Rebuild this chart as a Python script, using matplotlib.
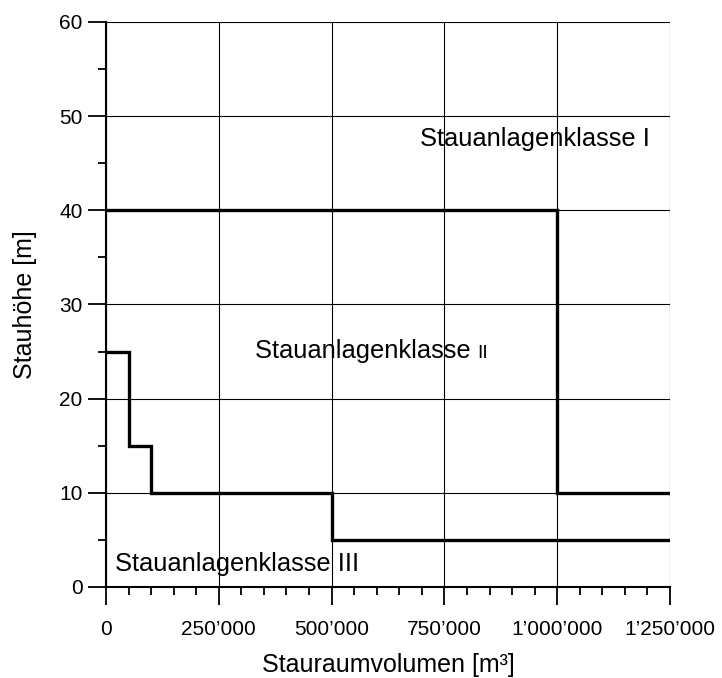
import matplotlib
matplotlib.use('Agg')
import matplotlib.pyplot as plt
from matplotlib.ticker import MultipleLocator, FuncFormatter

plt.rcParams['font.family'] = ['Liberation Sans', 'DejaVu Sans']

# Grenze Klasse I / II
grenze_1_x = [0, 1_000_000, 1_000_000, 1_250_000]
grenze_1_y = [40, 40, 10, 10]

# Grenze Klasse II / III
grenze_2_x = [0, 50_000, 50_000, 100_000, 100_000, 500_000, 500_000, 1_250_000]
grenze_2_y = [25, 25, 15, 15, 10, 10, 5, 5]

klassen_labels = ['Stauanlagenklasse I', 'Stauanlagenklasse ', 'Stauanlagenklasse III']
klassen_pos = [(696_000, 46.8), (330_000, 24.3), (20_000, 1.7)]


def tausender(v, pos):
    return f'{int(v):,}'.replace(',', '\u2019')


fig = plt.figure(figsize=(7.22, 6.78), dpi=100)
ax = fig.add_axes([106 / 722, 91 / 678, 564 / 722, 565 / 678])

ax.plot(grenze_1_x, grenze_1_y, color='black', linewidth=2.4, solid_joinstyle='miter')
ax.plot(grenze_2_x, grenze_2_y, color='black', linewidth=2.4, solid_joinstyle='miter')

ax.set_xlim(0, 1_250_000)
ax.set_ylim(0, 60)
ax.xaxis.set_major_locator(MultipleLocator(250_000))
ax.xaxis.set_minor_locator(MultipleLocator(50_000))
ax.yaxis.set_major_locator(MultipleLocator(10))
ax.yaxis.set_minor_locator(MultipleLocator(5))
ax.xaxis.set_major_formatter(FuncFormatter(tausender))

ax.grid(True, which='major', color='black', linewidth=0.8)
ax.set_axisbelow(True)
for s in ['top', 'right']:
    ax.spines[s].set_visible(False)
for s in ['left', 'bottom']:
    ax.spines[s].set_linewidth(1.5)

ax.tick_params(which='major', direction='out', length=13, width=1.3, labelsize=15, pad=11)
ax.tick_params(which='minor', direction='out', length=6, width=1.3)
ax.tick_params(axis='y', which='major', pad=4)

ax.set_xlabel('Stauraumvolumen [m\u00b3]', fontsize=18, labelpad=10)
ax.set_ylabel('Stauhöhe [m]', fontsize=18, labelpad=16)

for txt, (x, y) in zip(klassen_labels, klassen_pos):
    ax.text(x, y, txt, fontsize=18.4, ha='left', va='baseline')

# kleines "II" hinter Klasse II
ax.annotate('II', xy=(1, 0), xycoords=ax.texts[1], xytext=(0, 1),
            textcoords='offset points', fontsize=14, ha='left', va='bottom')

fig.savefig('out.png', dpi=100)
